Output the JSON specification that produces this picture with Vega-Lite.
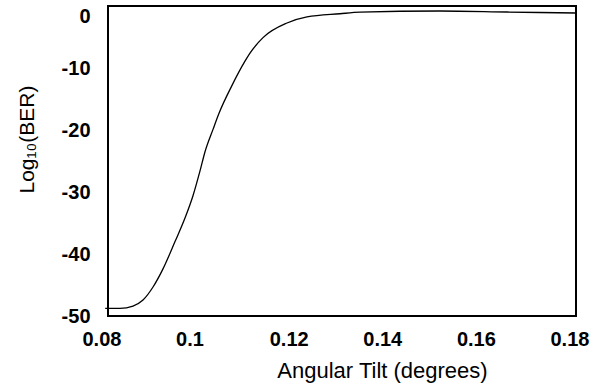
{
  "$schema": "https://vega.github.io/schema/vega-lite/v6.json",
  "autosize": {"type": "none"},
  "width": 468,
  "height": 310,
  "padding": {"left": 108, "top": 6, "right": 19, "bottom": 72},
  "background": "white",
  "config": {
    "view": {"stroke": "black", "strokeWidth": 2},
    "font": "Liberation Sans"
  },
  "data": {
    "values": [
      {"tilt": 0.0794, "logber": -48.76},
      {"tilt": 0.08256, "logber": -48.76},
      {"tilt": 0.08534, "logber": -48.39},
      {"tilt": 0.08748, "logber": -47.42},
      {"tilt": 0.08962, "logber": -45.32},
      {"tilt": 0.09175, "logber": -42.4},
      {"tilt": 0.09432, "logber": -38.0},
      {"tilt": 0.09645, "logber": -34.2},
      {"tilt": 0.09816, "logber": -30.6},
      {"tilt": 0.09966, "logber": -26.6},
      {"tilt": 0.10073, "logber": -23.5},
      {"tilt": 0.10244, "logber": -19.9},
      {"tilt": 0.10372, "logber": -17.3},
      {"tilt": 0.1065, "logber": -12.8},
      {"tilt": 0.10927, "logber": -8.9},
      {"tilt": 0.11034, "logber": -7.6},
      {"tilt": 0.11312, "logber": -5.1},
      {"tilt": 0.11825, "logber": -2.74},
      {"tilt": 0.12252, "logber": -1.77},
      {"tilt": 0.12957, "logber": -1.25},
      {"tilt": 0.13385, "logber": -1.0},
      {"tilt": 0.15094, "logber": -0.81},
      {"tilt": 0.16526, "logber": -0.97},
      {"tilt": 0.18, "logber": -1.13}
    ]
  },
  "mark": {"type": "line", "color": "black", "strokeWidth": 1.3, "interpolate": "monotone", "clip": false},
  "encoding": {
    "x": {
      "field": "tilt",
      "type": "quantitative",
      "scale": {"domain": [0.08, 0.18], "nice": false, "zero": false},
      "axis": {
        "values": [0.08, 0.1, 0.12, 0.14, 0.16, 0.18],
        "format": "~g",
        "grid": false,
        "ticks": false,
        "domain": false,
        "labelFont": "Liberation Sans",
        "labelFontSize": 20,
        "labelFontWeight": "bold",
        "labelColor": "black",
        "labelAlign": "left",
        "labelOffset": -26,
        "labelBaseline": "alphabetic",
        "labelPadding": 29,
        "labelFlush": false,
        "labelOverlap": false,
        "labelBound": false,
        "title": "Angular Tilt (degrees)",
        "titleFont": "Liberation Sans",
        "titleFontSize": 22,
        "titleFontWeight": "normal",
        "titleColor": "black",
        "titleX": 274,
        "titleY": 61,
        "titleAlign": "center",
        "titleAnchor": null,
        "titleBaseline": "alphabetic"
      }
    },
    "y": {
      "field": "logber",
      "type": "quantitative",
      "scale": {"domain": [-50, 0], "nice": false, "zero": false},
      "axis": {
        "values": [-50, -40, -30, -20, -10, 0],
        "labelExpr": "datum.value == 0 ? '0' : '-' + abs(datum.value)",
        "grid": false,
        "ticks": false,
        "domain": false,
        "labelFont": "Liberation Sans",
        "labelFontSize": 20,
        "labelFontWeight": "bold",
        "labelColor": "black",
        "labelPadding": 18,
        "labelBaseline": "middle",
        "labelOffset": {"condition": {"test": "datum.value == 0", "value": 10}, "value": 0},
        "labelFlush": false,
        "labelOverlap": false,
        "labelBound": false,
        "title": "Log₁₀(BER)",
        "titleFont": "Liberation Sans",
        "titleFontSize": 21,
        "titleFontWeight": "normal",
        "titleColor": "black",
        "titleAngle": -90,
        "titleX": -81,
        "titleY": 133,
        "titleAlign": "center",
        "titleAnchor": null,
        "titleBaseline": "middle"
      }
    }
  }
}
